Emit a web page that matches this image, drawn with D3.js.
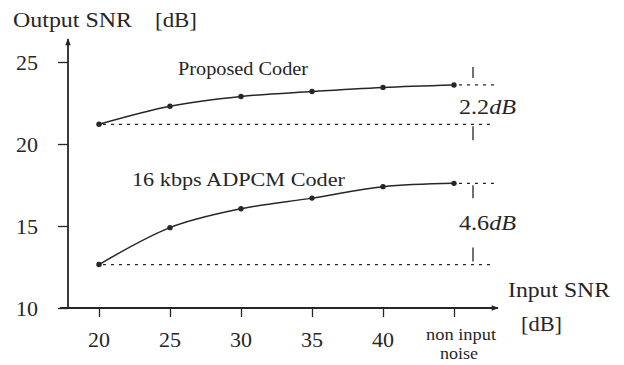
<!DOCTYPE html>
<html>
<head>
<meta charset="utf-8">
<script src="https://cdn.jsdelivr.net/npm/d3@7"></script>
<style>
  body { margin: 0; background: #fff; }
  svg { display: block; font-family: "Liberation Serif", "DejaVu Serif", serif; }
  text { fill: #262626; }
</style>
</head>
<body>
<div id="chart"></div>
<script>
// categories on the x axis (input SNR)
const inputSnr = ['20', '25', '30', '35', '40', 'non input noise'];
// output SNR of each coder
const proposedSnr = [21.2, 22.3, 22.9, 23.2, 23.45, 23.6];
const adpcmSnr = [12.65, 14.9, 16.05, 16.7, 17.4, 17.6];
// y axis ticks
const yTicks = [10, 15, 20, 25];
// gains written next to the last points
const gains = ['2.2', '4.6'];

const width = 624;
const height = 365;
const ink = '#262626';

const svg = d3.select('#chart').append('svg')
  .attr('width', width)
  .attr('height', height);

// scales
const x = d3.scalePoint().domain(inputSnr).range([99, 454]);
const y = d3.scaleLinear().domain([10, 25]).range([308, 62]);

const originX = 68;
const originY = y(10);

// helper for plain labels, the scanned font is wider than Times
// so textLength stretches the glyphs a bit
const label = (txt, px, py, size, len) => {
  const t = svg.append('text')
    .attr('x', px).attr('y', py)
    .attr('font-size', size)
    .text(txt);
  if (len) t.attr('textLength', len).attr('lengthAdjust', 'spacingAndGlyphs');
  return t;
};

// arrow head used by both axes
svg.append('defs').append('marker')
  .attr('id', 'arrow')
  .attr('viewBox', '0 0 10 10')
  .attr('refX', 9)
  .attr('refY', 5)
  .attr('markerWidth', 10)
  .attr('markerHeight', 7)
  .attr('markerUnits', 'userSpaceOnUse')
  .attr('orient', 'auto')
  .append('path')
  .attr('d', 'M0,1 L10,5 L0,9 Z')
  .attr('fill', ink);

// axis lines
svg.append('line')
  .attr('x1', originX).attr('y1', originY + 1)
  .attr('x2', originX).attr('y2', 39)
  .attr('stroke', ink).attr('stroke-width', 1.8)
  .attr('marker-end', 'url(#arrow)');
svg.append('line')
  .attr('x1', 60).attr('y1', originY)
  .attr('x2', 498).attr('y2', originY)
  .attr('stroke', ink).attr('stroke-width', 1.8)
  .attr('marker-end', 'url(#arrow)');

// y axis ticks and labels
const yAxis = d3.axisLeft(y).tickValues(yTicks).tickSize(10).tickPadding(20);
svg.append('g')
  .attr('transform', `translate(${originX},0)`)
  .call(yAxis)
  .call(g => g.select('.domain').remove())
  .call(g => g.selectAll('line').attr('stroke', ink).attr('stroke-width', 1.3))
  .call(g => g.selectAll('text')
    .attr('font-size', 22)
    .attr('font-family', 'Liberation Serif')
    .attr('fill', ink));

// x axis ticks and labels
const xAxis = d3.axisBottom(x).tickSize(9).tickFormat(() => '');
svg.append('g')
  .attr('transform', `translate(0,${originY})`)
  .call(xAxis)
  .call(g => g.select('.domain').remove())
  .call(g => g.selectAll('line').attr('stroke', ink).attr('stroke-width', 1.3));

inputSnr.forEach((d) => {
  if (d === 'non input noise') {
    label('non input', x(d) - 28, 340, 16, 70);
    label('noise', x(d) - 14, 359, 16, 38);
  } else {
    label(d, x(d), 347, 22).attr('text-anchor', 'middle');
  }
});

// axis titles
label('Output SNR', 13, 27, 22, 119);
label('[dB]', 155, 27, 22, 42);
label('Input SNR', 508, 297, 22, 102);
label('[dB]', 521, 331, 22, 41);

// dotted reference lines: starting level and final level of each curve
const dotted = (x1, x2, yv) => svg.append('line')
  .attr('x1', x1).attr('x2', x2)
  .attr('y1', y(yv)).attr('y2', y(yv))
  .attr('stroke', ink)
  .attr('stroke-width', 1.2)
  .attr('stroke-dasharray', '3,5');

const last = inputSnr.length - 1;
const bracketX = 473;
[proposedSnr, adpcmSnr].forEach((series, i) => {
  dotted(x(inputSnr[0]) + 4, 494, series[0]);
  dotted(x(inputSnr[last]) + 5, 494, series[last]);

  // small vertical marks showing the gap
  svg.append('line')
    .attr('x1', bracketX).attr('x2', bracketX)
    .attr('y1', y(series[last]) - (i === 0 ? 18 : -2))
    .attr('y2', y(series[last]) - (i === 0 ? 7 : -15))
    .attr('stroke', ink).attr('stroke-width', 1.3);
  svg.append('line')
    .attr('x1', bracketX).attr('x2', bracketX)
    .attr('y1', y(series[0]) + (i === 0 ? 2 : -17))
    .attr('y2', y(series[0]) + (i === 0 ? 16 : -3))
    .attr('stroke', ink).attr('stroke-width', 1.3);

  // gain text, number upright and unit in italics
  const gy = (y(series[last]) + y(series[0])) / 2 + (i === 0 ? 9 : 6);
  const t = svg.append('text')
    .attr('x', 459).attr('y', gy)
    .attr('font-size', 22)
    .attr('textLength', 57)
    .attr('lengthAdjust', 'spacingAndGlyphs');
  t.append('tspan').text(gains[i]);
  t.append('tspan').attr('font-style', 'italic').text('dB');
});

// curves with their data points
const line = d3.line()
  .x((d, i) => x(inputSnr[i]))
  .y(d => y(d))
  .curve(d3.curveMonotoneX);

[proposedSnr, adpcmSnr].forEach((series) => {
  svg.append('path')
    .datum(series)
    .attr('d', line)
    .attr('fill', 'none')
    .attr('stroke', ink)
    .attr('stroke-width', 1.5);
  svg.append('g').selectAll('circle')
    .data(series)
    .join('circle')
    .attr('cx', (d, i) => x(inputSnr[i]))
    .attr('cy', d => y(d))
    .attr('r', 2.7)
    .attr('fill', ink);
});

// curve labels
label('Proposed Coder', 178, 75, 19, 130);
label('16 kbps ADPCM Coder', 132, 186, 19, 213);
</script>
</body>
</html>
